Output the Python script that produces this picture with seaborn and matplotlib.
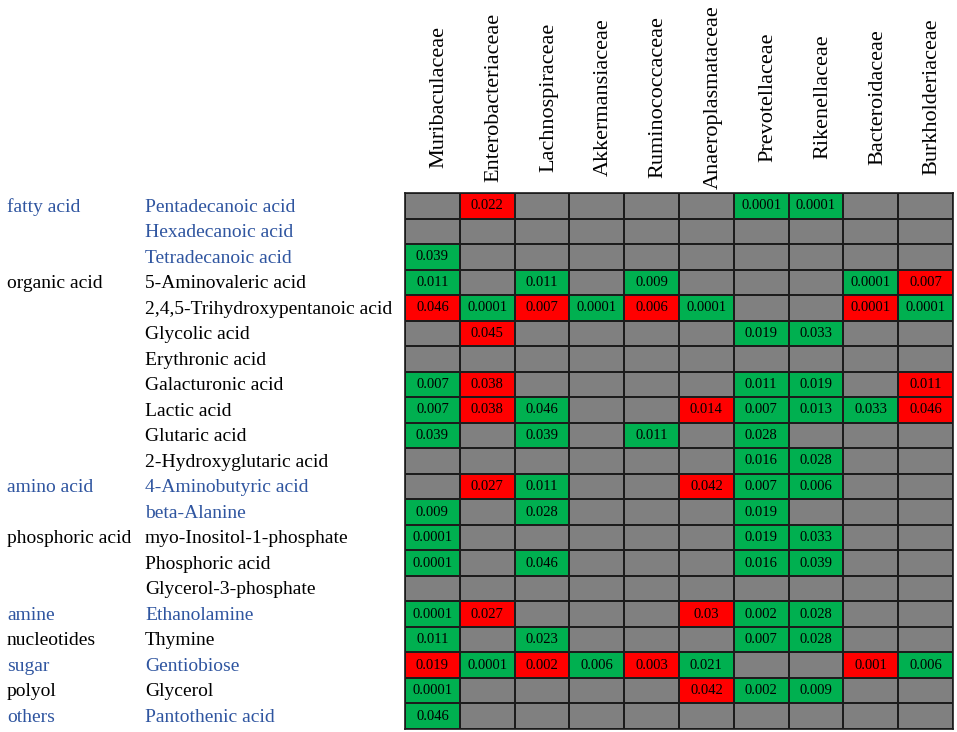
import numpy as np
import pandas as pd
import matplotlib
matplotlib.use("Agg")
import matplotlib.pyplot as plt
import matplotlib.transforms as mtransforms
from matplotlib.colors import ListedColormap
import seaborn as sns

# ---------------- data ----------------
families = ["Muribaculaceae", "Enterobacteriaceae", "Lachnospiraceae", "Akkermansiaceae",
            "Ruminococcaceae", "Anaeroplasmataceae", "Prevotellaceae", "Rikenellaceae",
            "Bacteroidaceae", "Burkholderiaceae"]

metabolites = ["Pentadecanoic acid", "Hexadecanoic acid", "Tetradecanoic acid",
               "5-Aminovaleric acid", "2,4,5-Trihydroxypentanoic acid", "Glycolic acid",
               "Erythronic acid", "Galacturonic acid", "Lactic acid", "Glutaric acid",
               "2-Hydroxyglutaric acid", "4-Aminobutyric acid", "beta-Alanine",
               "myo-Inositol-1-phosphate", "Phosphoric acid", "Glycerol-3-phosphate",
               "Ethanolamine", "Thymine", "Gentiobiose", "Glycerol", "Pantothenic acid"]

classes = ["fatty acid", "", "", "organic acid", "", "", "", "", "", "", "",
           "amino acid", "", "phosphoric acid", "", "", "amine", "nucleotides",
           "sugar", "polyol", "others"]

# label colour group per row (True = blue)
blue_rows = [True, True, True, False, False, False, False, False, False, False, False,
             True, True, False, False, False, True, False, True, False, True]

# p-values: positive = green cell, negative = red cell, None = not significant
_ = None
p_values = [
    [_, -0.022, _, _, _, _, 0.0001, 0.0001, _, _],
    [_, _, _, _, _, _, _, _, _, _],
    [0.039, _, _, _, _, _, _, _, _, _],
    [0.011, _, 0.011, _, 0.009, _, _, _, 0.0001, -0.007],
    [-0.046, 0.0001, -0.007, 0.0001, -0.006, 0.0001, _, _, -0.0001, 0.0001],
    [_, -0.045, _, _, _, _, 0.019, 0.033, _, _],
    [_, _, _, _, _, _, _, _, _, _],
    [0.007, -0.038, _, _, _, _, 0.011, 0.019, _, -0.011],
    [0.007, -0.038, 0.046, _, _, -0.014, 0.007, 0.013, 0.033, -0.046],
    [0.039, _, 0.039, _, 0.011, _, 0.028, _, _, _],
    [_, _, _, _, _, _, 0.016, 0.028, _, _],
    [_, -0.027, 0.011, _, _, -0.042, 0.007, 0.006, _, _],
    [0.009, _, 0.028, _, _, _, 0.019, _, _, _],
    [0.0001, _, _, _, _, _, 0.019, 0.033, _, _],
    [0.0001, _, 0.046, _, _, _, 0.016, 0.039, _, _],
    [_, _, _, _, _, _, _, _, _, _],
    [0.0001, -0.027, _, _, _, -0.03, 0.002, 0.028, _, _],
    [0.011, _, 0.023, _, _, _, 0.007, 0.028, _, _],
    [-0.019, 0.0001, -0.002, 0.006, -0.003, 0.021, _, _, -0.001, 0.006],
    [0.0001, _, _, _, _, -0.042, 0.002, 0.009, _, _],
    [0.046, _, _, _, _, _, _, _, _, _],
]

# ---------------- build matrices ----------------
sign = np.array([[0 if v is None else (1 if v > 0 else -1) for v in row] for row in p_values], dtype=float)
annot = np.array([["" if v is None else str(abs(v)) for v in row] for row in p_values], dtype=object)
df = pd.DataFrame(sign, index=metabolites, columns=families)

SERIF = ["Liberation Serif", "DejaVu Serif"]
BLUE = "#2F55A0"

sns.set_theme(style="white")
plt.rcParams["font.family"] = SERIF

W, H = 957, 732
fig = plt.figure(figsize=(W / 100, H / 100), dpi=100)
ax = fig.add_axes([405 / W, 1 - 729 / H, (953 - 405) / W, (729 - 193) / H])

cmap = ListedColormap(["#FF0000", "#808080", "#00B050"])
sns.heatmap(df, ax=ax, cmap=cmap, vmin=-1.5, vmax=1.5, cbar=False,
            annot=annot, fmt="", annot_kws={"fontsize": 10.5, "color": "black", "family": SERIF},
            linewidths=1.2, linecolor="#1c1c1c", square=False)

# outer frame
for s in ax.spines.values():
    s.set_visible(True)
    s.set_color("#1c1c1c")
    s.set_linewidth(1.2)

ax.set_xticks([])
ax.set_yticks([])
ax.set_xlabel("")
ax.set_ylabel("")

# column labels: vertically centred above the grid
trans_x = mtransforms.blended_transform_factory(ax.transData, fig.transFigure)
for j, fam in enumerate(families):
    ax.text(j + 0.62, 1 - 97 / H, fam, transform=trans_x, rotation=90,
            ha="center", va="center", fontsize=16, family=SERIF, color="black",
            clip_on=False)

# row labels (metabolite and class) placed at figure x, data y
trans = mtransforms.blended_transform_factory(fig.transFigure, ax.transData)
for i, (m, c, b) in enumerate(zip(metabolites, classes, blue_rows)):
    col = BLUE if b else "black"
    ax.text(145 / W, i + 0.55, m, transform=trans, ha="left", va="center",
            fontsize=14, color=col, family=SERIF, clip_on=False)
    if c:
        ax.text(7 / W, i + 0.55, c, transform=trans, ha="left", va="center",
                fontsize=14, color=col, family=SERIF, clip_on=False)

fig.savefig("out.png", dpi=100)
